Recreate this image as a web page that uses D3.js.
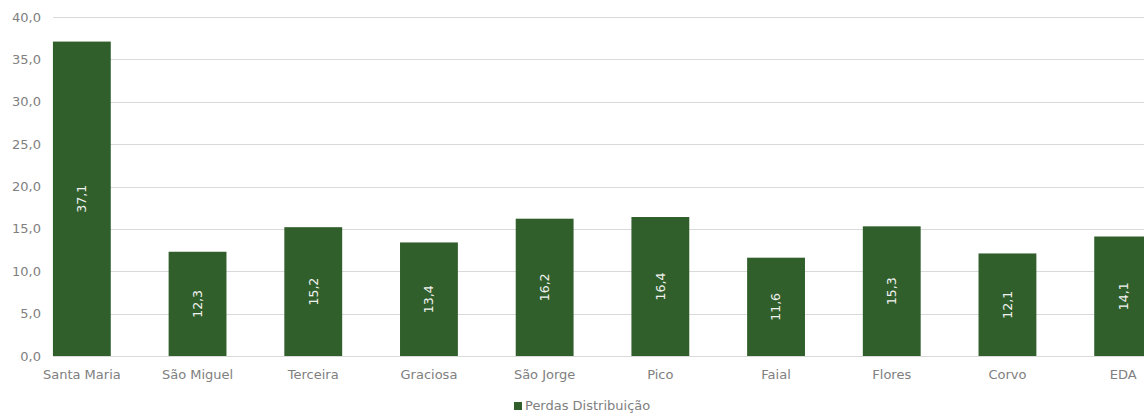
<!DOCTYPE html>
<html><head><meta charset="utf-8">
<script src="https://cdn.jsdelivr.net/npm/d3@7"></script>
<style>
html,body{margin:0;padding:0;background:#fff;overflow:hidden;}
text{font-family:"DejaVu Sans","Noto Sans",sans-serif;}
</style></head>
<body>
<svg id="chart" width="1144" height="414"></svg>
<script>
const categories = ["Santa Maria","São Miguel","Terceira","Graciosa","São Jorge","Pico","Faial","Flores","Corvo","EDA"];
const values = [37.1, 12.3, 15.2, 13.4, 16.2, 16.4, 11.6, 15.3, 12.1, 14.1];
const yTicks = [0,5,10,15,20,25,30,35,40];
const seriesName = "Perdas Distribuição";

const svg = d3.select("#chart");
const fmt = v => d3.format(".1f")(v).replace(".", ",");
const barColor = "#305f2b";
const textColor = "#808080";

const x = d3.scaleBand().domain(categories).range([24, 1181]).paddingInner(0.5).paddingOuter(0.25);
const y = d3.scaleLinear().domain([0, 40]).range([356, 17]);

// gridlines
svg.append("g").selectAll("line").data(yTicks).join("line")
  .attr("x1", 53).attr("x2", 1144)
  .attr("y1", d => Math.round(y(d)) + 0.5).attr("y2", d => Math.round(y(d)) + 0.5)
  .attr("stroke", "#d9d9d9").attr("stroke-width", 1);

// y labels
svg.append("g").selectAll("text").data(yTicks).join("text")
  .attr("x", 41).attr("y", d => y(d)).attr("dy", "0.35em")
  .attr("text-anchor", "end").attr("fill", textColor).attr("font-size", 13)
  .text(d => fmt(d));

// bars
svg.append("g").selectAll("rect").data(values).join("rect")
  .attr("x", (d, i) => x(categories[i])).attr("width", x.bandwidth())
  .attr("y", d => y(d)).attr("height", d => y(0) - y(d))
  .attr("fill", barColor);

// data labels
svg.append("g").selectAll("text").data(values).join("text")
  .attr("transform", (d, i) => `translate(${x(categories[i]) + x.bandwidth()/2},${(y(d) + y(0))/2}) rotate(-90)`)
  .attr("text-anchor", "middle").attr("dy", "0.35em")
  .attr("fill", "#f2f2f2").attr("font-size", 12.5)
  .text(d => fmt(d));

// x labels
svg.append("g").selectAll("text").data(categories).join("text")
  .attr("x", d => x(d) + x.bandwidth()/2).attr("y", 374).attr("dy", "0.35em")
  .attr("text-anchor", "middle").attr("fill", textColor).attr("font-size", 13)
  .text(d => d);

// legend
const lg = svg.append("g");
lg.append("rect").attr("x", 514).attr("y", 402).attr("width", 8).attr("height", 8).attr("fill", barColor);
lg.append("text").attr("x", 525).attr("y", 405).attr("dy", "0.35em")
  .attr("fill", textColor).attr("font-size", 13).text(seriesName);
</script>
</body></html>
